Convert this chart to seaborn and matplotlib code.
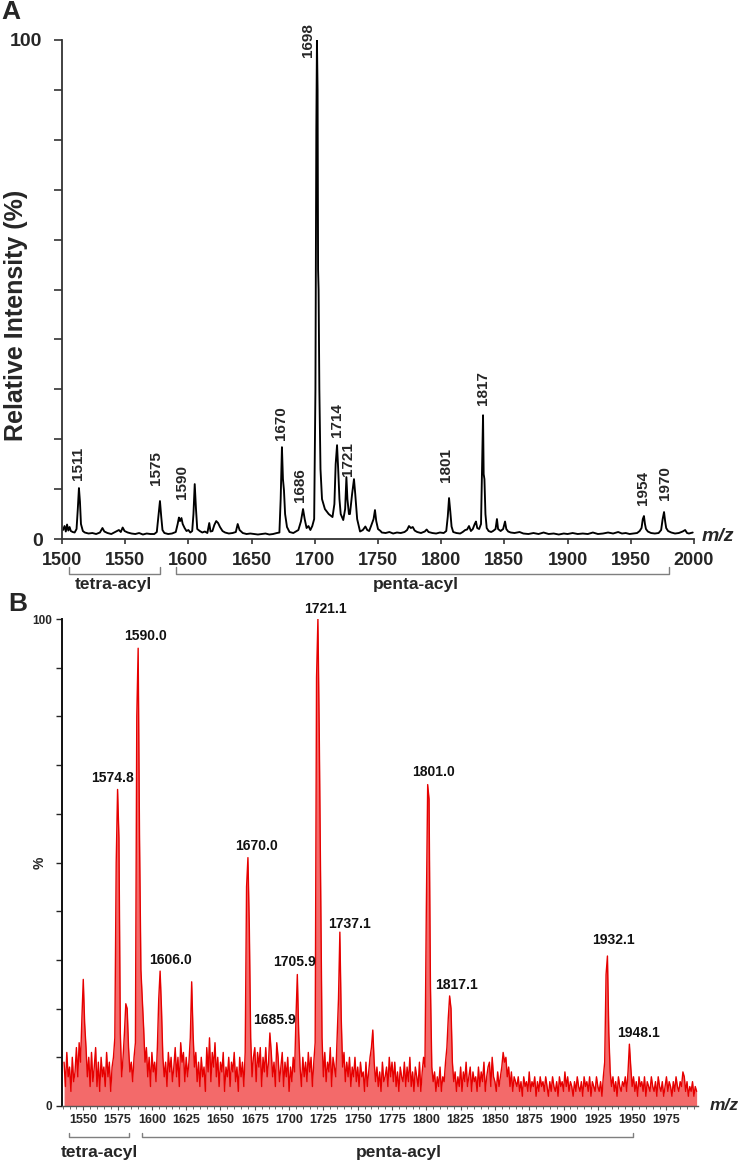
import numpy as np
import matplotlib
matplotlib.use('Agg')
import matplotlib.pyplot as plt
import matplotlib.transforms as mtransforms
from matplotlib.ticker import MultipleLocator
import seaborn as sns

# Panel A: MALDI trace, vertices (m/z, relative intensity %)
a_mz = [1500.8, 1502, 1503, 1504, 1505, 1506, 1507, 1508.5, 1510, 1511.5,
        1512.5, 1513.4, 1514.2, 1515, 1516.5, 1518, 1521, 1524, 1527, 1530,
        1532, 1533.5, 1536, 1539, 1542, 1545, 1546.5, 1548, 1549.5, 1552,
        1555, 1558, 1561, 1564, 1567, 1570, 1573, 1575, 1576.5, 1577.5,
        1578.5, 1579.5, 1581, 1584, 1587, 1590, 1591.5, 1592.5, 1593.4, 1594.5,
        1595.5, 1597, 1598.5, 1600, 1601.5, 1603, 1604, 1605, 1606, 1607,
        1609, 1611, 1613, 1615, 1616.5, 1617.5, 1619, 1620.5, 1622, 1623.5,
        1625, 1627, 1629, 1632, 1635, 1637.5, 1639, 1640.5, 1643, 1646,
        1649, 1652, 1655, 1658, 1661, 1664, 1667, 1670, 1672, 1673,
        1674, 1674.8, 1675.6, 1676.5, 1678, 1680, 1683, 1685, 1687, 1689,
        1690.7, 1692, 1693.5, 1695, 1696.5, 1698, 1699.5, 1700.5, 1701.2, 1701.7,
        1702.2, 1702.6, 1703.0, 1703.6, 1704.5, 1705.7, 1708, 1711, 1714, 1715.5,
        1716.5, 1717.6, 1718.5, 1719.5, 1720.5, 1722.5, 1724, 1725, 1725.8, 1727,
        1727.8, 1729.5, 1731, 1732, 1733.5, 1735.8, 1738, 1740, 1741.5, 1743,
        1744.5, 1746.5, 1747.6, 1748.6, 1750, 1752, 1753, 1756, 1759, 1762,
        1765, 1768, 1771, 1773, 1774.5, 1776, 1777.5, 1779, 1781, 1784,
        1787, 1788.5, 1790, 1793, 1796, 1799, 1802, 1804, 1805.2, 1806.2,
        1807.2, 1808.2, 1809.5, 1812, 1815, 1817, 1819, 1820.5, 1822, 1823.5,
        1825, 1826.5, 1827.5, 1828.5, 1830, 1831.5, 1832.3, 1833.1, 1833.6, 1834.2,
        1835, 1836, 1837.5, 1839.5, 1841, 1843, 1844.1, 1845, 1847, 1849,
        1850.5, 1851.5, 1853, 1855, 1858, 1862, 1865, 1869, 1873, 1877,
        1881, 1885, 1889, 1893, 1897, 1900, 1904, 1908, 1912, 1916,
        1920, 1924, 1928, 1932, 1936, 1940, 1943, 1946, 1949, 1952,
        1955, 1957, 1958.5, 1959.5, 1960.4, 1961.2, 1962, 1963.5, 1966, 1969,
        1972, 1974, 1975.2, 1976.3, 1977.2, 1978, 1979.5, 1982, 1985, 1988,
        1991, 1993, 1994.5, 1996, 1999]
a_int = [1.8, 2.6, 1.5, 2.9, 1.7, 2.4, 1.6, 1.4, 1.3, 2.0,
         6.0, 10.2, 7.5, 3.0, 1.6, 1.3, 1.1, 1.2, 1.0, 1.3,
         2.2, 1.5, 1.2, 1.0, 1.4, 1.8, 1.4, 2.3, 1.6, 1.3,
         1.1, 1.0, 1.2, 0.9, 1.1, 1.0, 1.0, 1.4, 5.0, 7.6,
         4.5, 1.8, 1.2, 1.0, 1.1, 1.4, 3.0, 4.3, 3.6, 4.2,
         3.0, 2.2, 1.6, 1.8, 1.3, 1.6, 5.0, 11.0, 6.0, 2.0,
         1.6, 1.3, 1.5, 1.2, 3.2, 1.5, 1.6, 2.8, 3.6, 3.2,
         2.4, 1.6, 1.3, 1.1, 1.2, 1.4, 3.0, 1.8, 1.2, 1.0,
         1.1, 1.0, 0.9, 1.0, 1.1, 0.9, 1.0, 1.2, 1.3, 8.0,
         18.4, 12.0, 9.8, 5.0, 2.4, 1.4, 1.2, 1.5, 1.8, 3.5,
         6.0, 4.0, 2.2, 2.6, 1.8, 2.6, 4.0, 30, 82, 100,
         90, 54, 50, 30, 14, 8, 6, 5, 4.4, 7,
         15, 18.8, 14, 8, 5, 3.8, 6, 12.4, 8, 5,
         5, 9, 12, 9, 4, 1.5, 1.8, 2.5, 1.8, 1.6,
         2.6, 4.0, 5.8, 3.6, 2.0, 1.6, 1.3, 1.2, 1.4, 1.1,
         1.3, 1.2, 1.4, 1.8, 2.6, 2.2, 2.4, 1.7, 1.4, 1.2,
         1.5, 1.9, 1.4, 1.2, 1.1, 1.3, 1.2, 1.6, 4.5, 8.2,
         5.5, 2.5, 1.4, 1.2, 1.1, 1.4, 1.8, 1.9, 2.6, 1.6,
         2.0, 3.0, 3.5, 2.2, 2.0, 3.0, 14, 24.8, 13, 12,
         5, 2.2, 1.6, 1.4, 1.6, 2.0, 4.0, 2.0, 1.6, 2.0,
         3.5, 2.0, 1.5, 1.3, 1.2, 1.4, 1.1, 1.0, 1.2, 1.0,
         1.3, 1.0, 1.1, 0.9, 1.1, 1.0, 1.2, 1.0, 1.1, 1.0,
         1.3, 1.0, 1.1, 1.3, 1.1, 1.4, 1.1, 1.2, 1.0, 1.1,
         1.2, 1.6, 2.2, 4.0, 4.6, 3.0, 2.0, 1.5, 1.2, 1.1,
         1.2, 1.8, 4.0, 5.4, 3.5, 2.2, 1.6, 1.3, 1.1, 1.2,
         1.5, 1.8, 1.2, 1.1, 1.3]

a_labels = ['1511', '1575', '1590', '1670', '1686', '1698',
            '1714', '1721', '1801', '1817', '1954', '1970']
a_peak_mz = [1513.4, 1577.5, 1593.4, 1674.0, 1690.7, 1701.7,
             1717.6, 1725.0, 1806.2, 1833.1, 1960.4, 1976.3]
# label offsets from the peak top, in pixels (x right, y up)
a_dx = [-1, -4, 2, -1, -3, -9, 0, 2, -3, 0, -1, 1]
a_dy = [8, 16, 19, 7, 7, -17, 8, 1, 16, 10, 11, 12]

# Panel B: ESI spectrum, one value per m/z unit starting at 1536
b_start = 1536
b_int = [9, 4, 11, 6, 8, 3, 10, 5, 7, 12,          # 1536
         6, 13, 9, 18, 26, 17, 12, 6, 10, 4,        # 1546
         11, 5, 8, 12, 4, 9, 3, 10, 6, 8,           # 1556
         4, 11, 6, 9, 3, 8, 10, 14, 50, 65,         # 1566
         55, 15, 6, 10, 15, 21, 20, 12, 7, 9,       # 1576
         5, 10, 13, 80, 94, 55, 28, 22, 16, 9,      # 1586
         12, 6, 10, 4, 11, 7, 9, 5, 12, 22,         # 1596
         27.7, 20, 10, 6, 9, 4, 11, 7, 10, 5,       # 1606
         8, 12, 6, 10, 4, 13, 9, 11, 5, 10,         # 1616
         6, 9, 14, 25.5, 15, 8, 11, 5, 9, 4,        # 1626
         10, 6, 8, 3, 12, 7, 14, 5, 11, 8,          # 1636
         13, 6, 10, 4, 9, 7, 11, 3, 8, 6,           # 1646
         10, 4, 9, 7, 11, 5, 8, 3, 10, 6,           # 1656
         9, 4, 11, 45, 51, 37, 14, 6, 10, 12,       # 1666
         5, 11, 8, 12, 4, 10, 7, 12, 6, 9,          # 1676
         15, 11, 6, 9, 4, 13, 10, 5, 8, 11,         # 1686
         4, 9, 6, 10, 3, 8, 5, 10, 7, 18,           # 1696
         27, 15, 8, 4, 10, 6, 9, 5, 11, 7,          # 1706
         10, 4, 9, 13, 88, 100, 76, 45, 14, 6,      # 1716
         11, 5, 9, 7, 12, 4, 10, 8, 6, 14,          # 1726
         22, 35.7, 18, 8, 11, 5, 9, 6, 10, 4,       # 1736
         8, 6, 10, 5, 8, 4, 9, 6, 7, 3,             # 1746
         9, 4, 7, 10, 12, 15.6, 9, 5, 8, 4,         # 1756
         7, 3, 9, 5, 6, 8, 4, 10, 6, 9,             # 1766
         5, 9, 4, 7, 3, 8, 6, 5, 9, 4,              # 1776
         8, 5, 10, 4, 7, 3, 8, 6, 4, 9,             # 1786
         3, 7, 10, 8, 40, 66, 63, 25, 8, 5,         # 1796
         7, 3, 6, 4, 8, 3, 6, 5, 9, 12,             # 1806
         18, 22.6, 20, 9, 5, 7, 3, 6, 4, 8,         # 1816
         3, 7, 5, 9, 4, 6, 8, 3, 7, 5,              # 1826
         6, 3, 8, 4, 7, 5, 9, 3, 6, 8,              # 1836
         9, 4, 10, 6, 5, 3, 7, 4, 6, 8,             # 1846
         11, 9, 10, 6, 8, 4, 7, 3, 6, 5,            # 1856
         4, 6, 3, 5, 2, 6, 4, 5, 3, 7,              # 1866
         3, 5, 4, 6, 2, 5, 3, 6, 4, 5,              # 1876
         3, 6, 4, 2, 5, 3, 6, 4, 3, 5,              # 1886
         2, 6, 4, 5, 3, 7, 4, 6, 3, 5,              # 1896
         4, 2, 5, 3, 6, 4, 3, 5, 2, 6,              # 1906
         4, 5, 3, 6, 2, 5, 4, 3, 6, 4,              # 1916
         3, 5, 2, 6, 9, 27, 30.8, 15, 7, 4,         # 1926
         6, 3, 5, 2, 6, 4, 3, 5, 4, 6,              # 1936
         3, 7, 12.7, 8, 4, 6, 3, 5, 2, 6,           # 1946
         4, 5, 3, 6, 2, 5, 4, 3, 6, 4,              # 1956
         3, 5, 2, 6, 4, 3, 5, 2, 4, 6,              # 1966
         3, 5, 4, 2, 5, 3, 6, 4, 3, 5,              # 1976
         4, 7, 6, 3, 5, 2, 4, 3, 5, 2,              # 1986
         4, 3]                                      # 1996

b_labels = ['1574.8', '1590.0', '1606.0', '1670.0', '1685.9', '1705.9',
            '1721.1', '1737.1', '1801.0', '1817.1', '1932.1', '1948.1']
b_peak_mz = [1575, 1590, 1606, 1670, 1686, 1706, 1721, 1737, 1801, 1817, 1932, 1948]
b_dx = [-5, 7, 10, 9, 5, -3, 8, 10, 6, 7, 6, 9]
b_dy = [11, 12, 11, 12, 13, 13, 10, 8, 13, 11, 16, 11]

groups = ['tetra-acyl', 'penta-acyl']
a_group_span = [(1505.5, 1577.5), (1590, 1980)]
a_group_text_x = [1541, 1780]
b_group_span = [(1539.6, 1583.3), (1592.8, 1950.6)]
b_group_text_x = [1561.5, 1780]

sns.set_style('ticks')
plt.rcParams['font.family'] = ['Liberation Sans', 'DejaVu Sans']

W, H = 740, 1161
PX = 0.72  # pixel -> point at 100 dpi
fig = plt.figure(figsize=(W / 100, H / 100), dpi=100)
ax_a = fig.add_axes([62 / W, 1 - 539 / H, 632 / W, 499 / H])
ax_b = fig.add_axes([62 / W, 1 - 1106 / H, 636 / W, 487 / H])


def draw_groups(ax, spans, text_x, y_line, y_tick, y_text):
	trans = mtransforms.blended_transform_factory(ax.transData, ax.transAxes)
	for name, (x0, x1), tx in zip(groups, spans, text_x):
		ax.plot([x0, x0, x1, x1], [y_tick, y_line, y_line, y_tick], transform=trans,
				color='#7f7f7f', lw=1.0, clip_on=False)
		ax.text(tx, y_text, name, transform=trans, ha='center', va='center',
				fontsize=12.5, fontweight='bold')


# ---- panel A ----
a_mz_arr = np.array(a_mz)
a_int_arr = np.array(a_int)
sns.lineplot(x=a_mz_arr, y=a_int_arr, ax=ax_a, color='black', lw=1.35, estimator=None)
ax_a.set_xlim(1500, 2000)
ax_a.set_ylim(0, 100)
sns.despine(ax=ax_a)
for sp in ['left', 'bottom']:
	ax_a.spines[sp].set_linewidth(1.3)
	ax_a.spines[sp].set_color('#333333')
ax_a.set_xticks(np.arange(1500, 2001, 50))
ax_a.set_yticks(np.arange(0, 101, 10))
ax_a.set_yticklabels(['0'] + [''] * 9 + ['100'])
ax_a.tick_params(axis='y', length=6, width=1.2, pad=8, labelsize=14, color='#333333')
ax_a.tick_params(axis='x', length=3.5, width=1.2, pad=6, labelsize=13, color='#333333')
for lab in ax_a.get_xticklabels() + ax_a.get_yticklabels():
	lab.set_fontweight('bold')
ax_a.set_ylabel('Relative Intensity (%)', fontsize=18, fontweight='bold')
ax_a.yaxis.set_label_coords(-0.0538, 0.449)

for lab, mz, dx, dy in zip(a_labels, a_peak_mz, a_dx, a_dy):
	near = np.abs(a_mz_arr - mz) < 1.0
	top = a_int_arr[near].max()
	ax_a.annotate(lab, xy=(mz, top), xytext=(dx * PX, dy * PX), textcoords='offset points',
				  rotation=90, ha='center', va='bottom', fontsize=11, fontweight='bold')

ax_a.text(1.0127, 0.006, 'm/z', transform=ax_a.transAxes, ha='left', va='center',
		  fontsize=14, fontweight='bold', fontstyle='italic')
draw_groups(ax_a, a_group_span, a_group_text_x, -35 / 499, -28 / 499, -46 / 499)

# ---- panel B ----
b_int_arr = np.array(b_int, dtype=float)
b_mz_arr = b_start + np.arange(len(b_int_arr))
ax_b.fill_between(b_mz_arr, b_int_arr, color='#f36a6a', lw=0)
sns.lineplot(x=b_mz_arr, y=b_int_arr, ax=ax_b, color='#e60000', lw=1.0, estimator=None)
ax_b.set_xlim(1534.5, 1998)
ax_b.set_ylim(0, 100)
sns.despine(ax=ax_b)
ax_b.spines['left'].set_linewidth(1.4)
ax_b.spines['left'].set_color('#111111')
ax_b.spines['bottom'].set_linewidth(1.0)
ax_b.spines['bottom'].set_color('#555555')
ax_b.xaxis.set_major_locator(MultipleLocator(25))
ax_b.xaxis.set_minor_locator(MultipleLocator(5))
ax_b.set_yticks(np.arange(0, 101, 10))
ax_b.set_yticklabels(['0'] + [''] * 9 + ['100'])
ax_b.tick_params(axis='y', length=4, width=1.0, pad=3, labelsize=8.5)
ax_b.tick_params(axis='x', which='major', length=3, width=0.8, pad=3, labelsize=9, color='#555555')
ax_b.tick_params(axis='x', which='minor', length=2, width=0.6, color='#555555')
for lab in ax_b.get_xticklabels() + ax_b.get_yticklabels():
	lab.set_fontweight('bold')
ax_b.set_ylabel('%', fontsize=10, fontweight='bold')
ax_b.yaxis.set_label_coords(-0.0236, 0.5)

for lab, mz, dx, dy in zip(b_labels, b_peak_mz, b_dx, b_dy):
	top = b_int_arr[mz - b_start]
	ax_b.annotate(lab, xy=(mz, top), xytext=(dx * PX, dy * PX), textcoords='offset points',
				  ha='center', va='center', fontsize=10, fontweight='bold', color='#111111')

ax_b.text(1.019, 0.002, 'm/z', transform=ax_b.transAxes, ha='left', va='center',
		  fontsize=12.5, fontweight='bold', fontstyle='italic')
draw_groups(ax_b, b_group_span, b_group_text_x, -31 / 487, -27 / 487, -46 / 487)

fig.text(0.002, 1 - 12 / H, 'A', ha='left', va='center', fontsize=19, fontweight='bold')
fig.text(8 / W, 1 - 604 / H, 'B', ha='left', va='center', fontsize=19, fontweight='bold')

fig.savefig('out.png', dpi=100)
